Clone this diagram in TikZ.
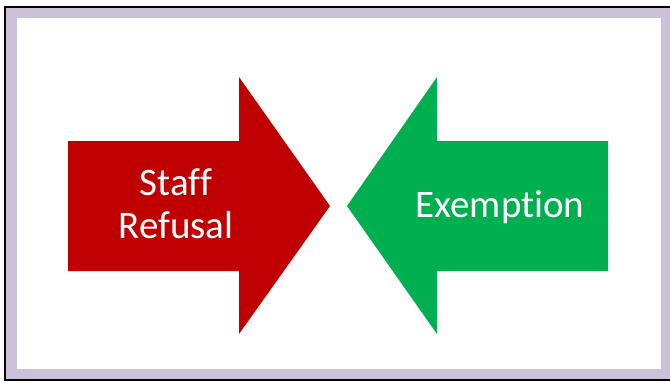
\documentclass[tikz,border=0pt]{standalone}
\usepackage{fontspec}
\setmainfont[Ligatures=NoCommon]{Carlito}
\definecolor{lav}{HTML}{CCC1DA}
\definecolor{redA}{HTML}{C00000}
\definecolor{greenA}{HTML}{00B050}
\begin{document}
\begin{tikzpicture}[x=1bp,y=-1bp,
  lbl/.style={text=white,font=\fontsize{39bp}{43bp}\selectfont,align=center,inner sep=0pt}]
\useasboundingbox (0,0) rectangle (670,381);
\fill[lav] (0,0) rectangle (670,381);
\fill[white] (0,0) rectangle (670,6);
\fill[white] (0,0) rectangle (4,381);
\fill[black] (4,6) rectangle (6,381);
\fill[black] (4,6) rectangle (670,8);
\fill[black] (4,379) rectangle (670,381);
\fill[white] (17,18) rectangle (661,369);
% red arrow
\fill[redA] (68,141) -- (239,141) -- (239,77) -- (330,206) -- (239,334) -- (239,271) -- (68,271) -- cycle;
% green arrow
\fill[greenA] (608,141) -- (437,141) -- (437,77) -- (347,206) -- (437,334) -- (437,271) -- (608,271) -- cycle;
\node[lbl,anchor=base] (staff) at (176,195) {Staff};
\node[lbl,anchor=base] (refusal) at (176,238) {Refusal};
\node[lbl,anchor=base] (exempt) at (500,217) {Exemption};
\end{tikzpicture}
\end{document}
